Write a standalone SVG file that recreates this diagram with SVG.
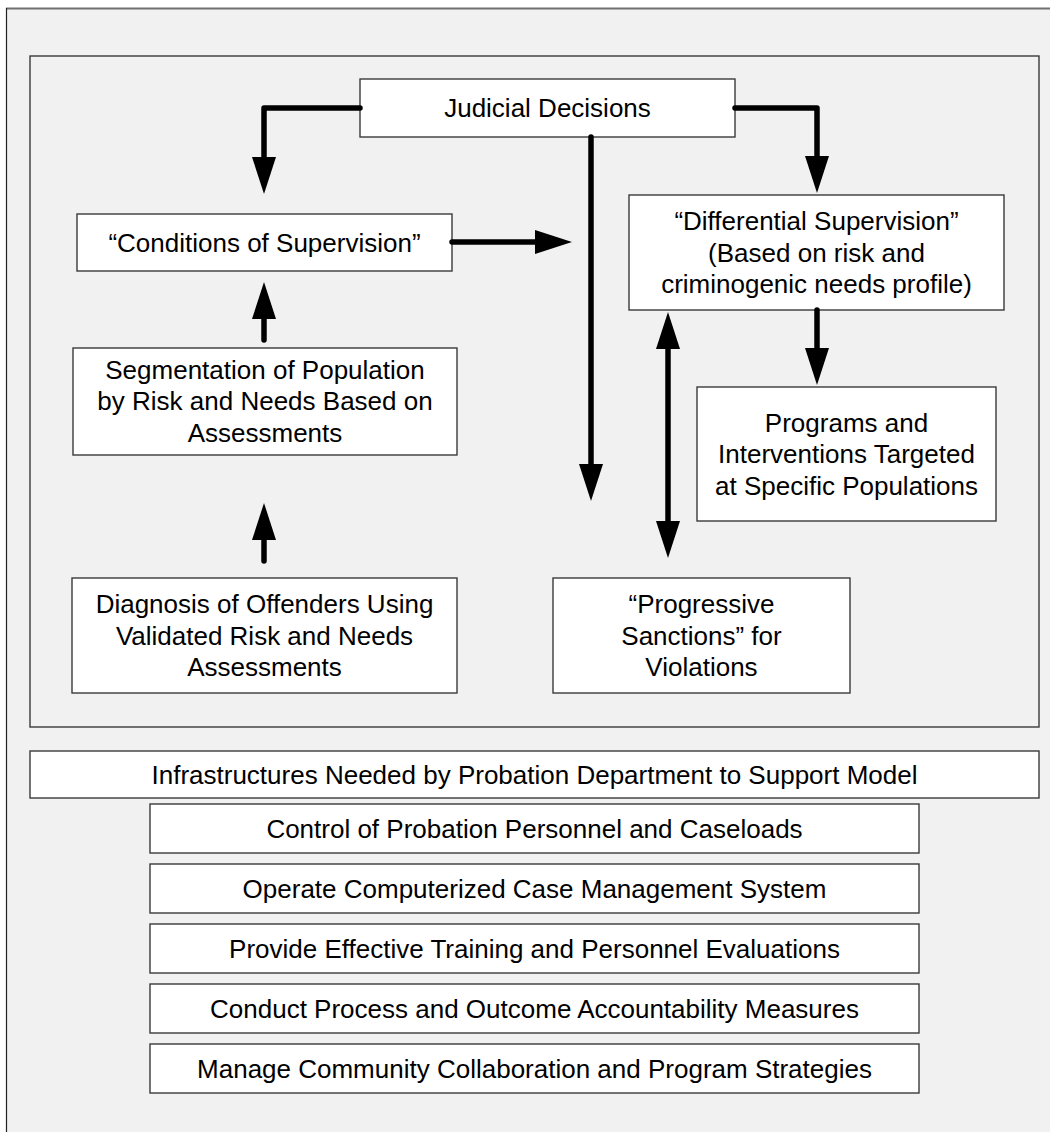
<svg xmlns="http://www.w3.org/2000/svg" width="1050" height="1132" viewBox="0 0 1050 1132">
  <style>
    .frame { fill: #f1f1f1; stroke: #3a3a3a; stroke-width: 1.4; }
    .box { fill: #ffffff; stroke: #3a3a3a; stroke-width: 1.4; }
    .lbl { font-family: "Liberation Sans", Arial, sans-serif; font-size: 26px; fill: #000000; text-anchor: middle; }
    .wire { fill: none; stroke: #000000; stroke-width: 5.5; stroke-linecap: round; stroke-linejoin: round; }
  </style>
  <defs>
    <marker id="head" markerUnits="userSpaceOnUse" markerWidth="37" markerHeight="24" refX="7" refY="12" orient="auto-start-reverse" overflow="visible">
      <path d="M0,0 L37,12 L0,24 Z" fill="#000000"/>
    </marker>
  </defs>

  <rect width="1050" height="1132" fill="#ffffff"/>

  <!-- outer page panel (runs off the right and bottom edges) -->
  <g id="page">
    <rect x="6" y="8" width="1100" height="1200" fill="#f1f1f1"/>
    <line x1="6" y1="8.5" x2="1050" y2="8.5" stroke="#707070" stroke-width="2"/>
    <line x1="6.5" y1="8" x2="6.5" y2="1132" stroke="#222222" stroke-width="1.2"/>
  </g>

  <!-- model panel -->
  <g id="model-panel">
    <rect class="frame" x="30" y="56" width="1009" height="671"/>
  </g>

  <g id="judicial-decisions">
    <rect class="box" x="360" y="79" width="375" height="58"/>
    <text class="lbl" x="547.5" y="117">Judicial Decisions</text>
  </g>

  <g id="conditions-of-supervision">
    <rect class="box" x="77" y="214" width="375" height="57"/>
    <text class="lbl" x="264.5" y="251.5">“Conditions of Supervision”</text>
  </g>

  <g id="differential-supervision">
    <rect class="box" x="629" y="195" width="375" height="115"/>
    <text class="lbl" x="816.5" y="230">“Differential Supervision”</text>
    <text class="lbl" x="816.5" y="261.5">(Based on risk and</text>
    <text class="lbl" x="816.5" y="293">criminogenic needs profile)</text>
  </g>

  <g id="segmentation">
    <rect class="box" x="73" y="348" width="384" height="107"/>
    <text class="lbl" x="265" y="378.5">Segmentation of Population</text>
    <text class="lbl" x="265" y="410">by Risk and Needs Based on</text>
    <text class="lbl" x="265" y="441.5">Assessments</text>
  </g>

  <g id="programs-interventions">
    <rect class="box" x="697" y="387" width="299" height="134"/>
    <text class="lbl" x="846.5" y="431.5">Programs and</text>
    <text class="lbl" x="846.5" y="463">Interventions Targeted</text>
    <text class="lbl" x="846.5" y="494.5">at Specific Populations</text>
  </g>

  <g id="diagnosis">
    <rect class="box" x="72" y="578" width="385" height="115"/>
    <text class="lbl" x="264.5" y="613">Diagnosis of Offenders Using</text>
    <text class="lbl" x="264.5" y="644.5">Validated Risk and Needs</text>
    <text class="lbl" x="264.5" y="676">Assessments</text>
  </g>

  <g id="progressive-sanctions">
    <rect class="box" x="553" y="578" width="297" height="115"/>
    <text class="lbl" x="701.5" y="613">“Progressive</text>
    <text class="lbl" x="701.5" y="644.5">Sanctions” for</text>
    <text class="lbl" x="701.5" y="676">Violations</text>
  </g>

  <!-- infrastructure stack -->
  <g id="infrastructures">
    <rect class="box" x="30" y="751" width="1009" height="47"/>
    <text class="lbl" x="534.5" y="783.5">Infrastructures Needed by Probation Department to Support Model</text>
  </g>
  <g id="control-personnel">
    <rect class="box" x="150" y="804" width="769" height="49"/>
    <text class="lbl" x="534.5" y="837.5">Control of Probation Personnel and Caseloads</text>
  </g>
  <g id="case-management">
    <rect class="box" x="150" y="864" width="769" height="49"/>
    <text class="lbl" x="534.5" y="897.5">Operate Computerized Case Management System</text>
  </g>
  <g id="training">
    <rect class="box" x="150" y="924" width="769" height="49"/>
    <text class="lbl" x="534.5" y="957.5">Provide Effective Training and Personnel Evaluations</text>
  </g>
  <g id="accountability">
    <rect class="box" x="150" y="984" width="769" height="49"/>
    <text class="lbl" x="534.5" y="1017.5">Conduct Process and Outcome Accountability Measures</text>
  </g>
  <g id="collaboration">
    <rect class="box" x="150" y="1044" width="769" height="49"/>
    <text class="lbl" x="534.5" y="1077.5">Manage Community Collaboration and Program Strategies</text>
  </g>

  <!-- connectors: each path stops 30px short of its arrow tip -->
  <g id="connectors">
    <path class="wire" d="M360,108 H264 V164" marker-end="url(#head)"/>
    <path class="wire" d="M735,108 H817 V163" marker-end="url(#head)"/>
    <path class="wire" d="M591,137 V471" marker-end="url(#head)"/>
    <path class="wire" d="M452,242 H542" marker-end="url(#head)"/>
    <path class="wire" d="M264,340 V312" marker-end="url(#head)"/>
    <path class="wire" d="M264,561 V533" marker-end="url(#head)"/>
    <path class="wire" d="M817,310 V355" marker-end="url(#head)"/>
    <path class="wire" d="M668,342 V528" marker-start="url(#head)" marker-end="url(#head)"/>
  </g>
</svg>
